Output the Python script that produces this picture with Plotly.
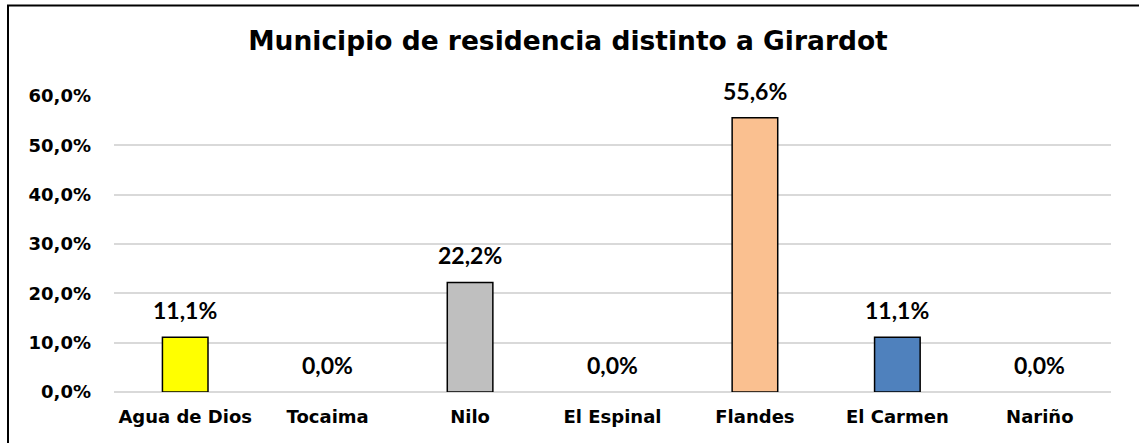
import plotly.graph_objects as go

categories = ["Agua de Dios", "Tocaima", "Nilo", "El Espinal", "Flandes", "El Carmen", "Nariño"]
values = [0.111, 0.0, 0.222, 0.0, 0.556, 0.111, 0.0]
bar_colors = ["#FFFF00", "#BFBFBF", "#BFBFBF", "#BFBFBF", "#FAC090", "#4F81BD", "#BFBFBF"]
y_ticks = [0, 0.1, 0.2, 0.3, 0.4, 0.5, 0.6]
title_text = "Municipio de residencia distinto a Girardot"

W, H = 1139, 443
ml, mr, mt, mb = 114, 28, 96, 51

fig = go.Figure()
fig.add_trace(go.Bar(
    x=categories, y=values,
    marker=dict(color=bar_colors,
                line=dict(color="#000000", width=[1.5 if v > 0 else 0 for v in values])),
    width=0.32,
    hoverinfo="x+y",
))

labels = [f"{v*100:.1f}%".replace(".", ",") for v in values]
for c, v, t in zip(categories, values, labels):
    fig.add_annotation(
        x=c, y=v, text=f"<b>{t}</b>", showarrow=False,
        xref="x", yref="y", yanchor="middle", yshift=27,
        font=dict(family="Lato", size=23, color="#000000"),
    )

pw = W - ml - mr
ph = H - mt - mb
# outer border of chart area
fig.add_shape(
    type="rect", xref="paper", yref="paper",
    x0=(8 - ml) / pw, x1=(1145 - ml) / pw,
    y0=(H - mb - 450) / ph, y1=(H - mb - 5.5) / ph,
    line=dict(color="#000000", width=2), fillcolor="rgba(0,0,0,0)", layer="below",
)

fig.update_layout(
    width=W, height=H,
    margin=dict(l=ml, r=mr, t=mt, b=mb),
    paper_bgcolor="#FFFFFF", plot_bgcolor="#FFFFFF",
    separators=",.",
    showlegend=False,
    title=dict(
        text=f"<b>{title_text}</b>", x=(568) / W, xanchor="center",
        y=1 - 41 / H, yanchor="middle", xref="container", yref="container",
        font=dict(family="DejaVu Sans", size=26.5, color="#000000"),
    ),
    xaxis=dict(
        showgrid=False, showline=False, zeroline=False, ticks="",
        tickfont=dict(family="DejaVu Sans", size=18, color="#000000", weight="bold"),
        ticklabelstandoff=12,
    ),
    yaxis=dict(
        range=[0, 0.6], tickvals=y_ticks, tickformat=".1%",
        showgrid=True, gridcolor="#D9D9D9", gridwidth=1.5,
        zeroline=True, zerolinecolor="#D9D9D9", zerolinewidth=1.5,
        showline=False, ticks="",
        tickfont=dict(family="DejaVu Sans", size=18, color="#000000", weight="bold"),
        ticklabelstandoff=22,
    ),
    bargap=0.68,
)

fig.write_html("out.html", config={"displayModeBar": False},
               post_script="document.body.style.margin='0px';")
